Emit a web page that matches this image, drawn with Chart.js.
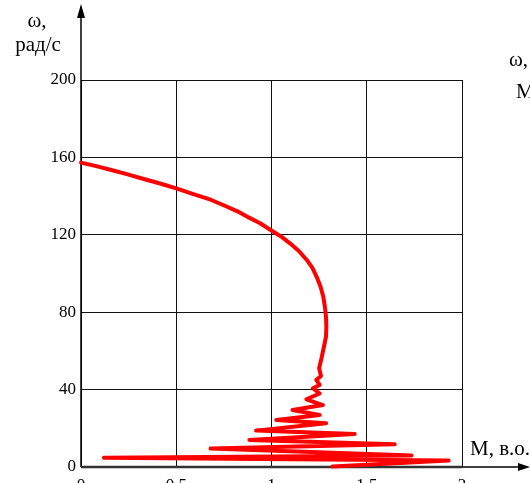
<!DOCTYPE html>
<html>
<head>
<meta charset="utf-8">
<script src="https://cdn.jsdelivr.net/npm/chart.js@4.4.1/dist/chart.umd.min.js"></script>
<style>
  html, body { margin: 0; padding: 0; background: #fff; overflow: hidden; }
  #wrap { width: 530px; height: 483px; }
</style>
</head>
<body>
<div id="wrap"><canvas id="chart" width="530" height="483"></canvas></div>
<script>
// tick labels
const xTicks = [0, 0.5, 1, 1.5, 2];
const yTicks = [0, 40, 80, 120, 160, 200];

// torque M (p.u.) against speed ω (rad/s), from start-up to idle
const torque = [
  1.32, 1.93, 0.12, 1.735, 0.68, 1.647, 0.884, 1.437, 0.919, 1.287,
  1.025, 1.253, 1.11, 1.27, 1.183, 1.253, 1.217, 1.253, 1.235, 1.26,
  1.25, 1.262, 1.275, 1.286, 1.288, 1.286, 1.28, 1.272, 1.258, 1.237,
  1.214, 1.185, 1.145, 1.097, 1.055, 1.01, 0.94, 0.88, 0.824, 0.755,
  0.684, 0.59, 0.5, 0.415, 0.334, 0.245, 0.159, 0.08, 0
];
const omega = [
  0.2, 3.3, 4.8, 5.9, 9.5, 11.7, 14, 17.1, 18.8, 22.6,
  24.3, 26.9, 29.5, 32, 35, 38, 40.7, 42.4, 45, 47,
  51, 56, 62, 67.3, 72.5, 77.7, 83, 88, 93, 98.3,
  103, 107, 111.5, 115.6, 118.8, 121.6, 126, 129, 132, 135,
  138, 141, 144, 146.5, 148.7, 151.2, 153.5, 155.5, 157.3
];

const serif = '"Liberation Serif", "Times New Roman", serif';

// arrows on the axes and the axis captions
const axisDecor = {
  id: "axisDecor",
  beforeDatasetsDraw(chart) {
    const { ctx, chartArea } = chart;
    const x0 = chartArea.left;
    const y0 = chartArea.bottom;
    ctx.save();
    ctx.strokeStyle = "#000";
    ctx.fillStyle = "#000";

    ctx.lineWidth = 1.5;
    ctx.beginPath();
    ctx.moveTo(x0, y0);
    ctx.lineTo(x0, 14);
    ctx.stroke();
    ctx.beginPath();
    ctx.moveTo(x0, 4);
    ctx.lineTo(x0 - 4, 18);
    ctx.lineTo(x0 + 4, 18);
    ctx.closePath();
    ctx.fill();

    ctx.lineWidth = 2.5;
    ctx.strokeStyle = "#333";
    ctx.beginPath();
    ctx.moveTo(x0, y0);
    ctx.lineTo(chartArea.right, y0);
    ctx.stroke();
    ctx.lineWidth = 1.5;
    ctx.strokeStyle = "#000";
    ctx.beginPath();
    ctx.moveTo(chartArea.right, y0);
    ctx.lineTo(520, y0);
    ctx.stroke();
    ctx.beginPath();
    ctx.moveTo(530, y0);
    ctx.lineTo(518, y0 - 4);
    ctx.lineTo(518, y0 + 4);
    ctx.closePath();
    ctx.fill();
    ctx.restore();
  },
  afterDraw(chart) {
    const ctx = chart.ctx;
    ctx.save();
    ctx.fillStyle = "#000";
    ctx.font = "21px " + serif;
    ctx.textBaseline = "alphabetic";
    ctx.textAlign = "center";
    ctx.fillText("ω,", 37, 27);
    ctx.fillText("рад/с", 38, 51);
    ctx.textAlign = "left";
    ctx.fillText("M, в.о.", 470, 455);
    ctx.fillText("ω,", 509, 66);
    ctx.fillText("M", 516, 98);
    ctx.restore();
  }
};

const tickFont = { family: serif, size: 17 };

new Chart(document.getElementById("chart"), {
  type: "scatter",
  data: {
    datasets: [
      {
        data: torque.map((m, i) => ({ x: m, y: omega[i] })),
        showLine: true,
        borderColor: "#ff0000",
        borderWidth: 4,
        borderCapStyle: "round",
        borderJoinStyle: "round",
        pointRadius: 0,
        tension: 0,
        clip: 4,
      },
    ],
  },
  plugins: [axisDecor],
  options: {
    responsive: false,
    animation: false,
    layout: { padding: { left: 0, top: 80, right: 68, bottom: 0 } },
    plugins: {
      legend: { display: false },
      tooltip: { enabled: false },
    },
    scales: {
      x: {
        type: "linear",
        min: 0,
        max: 2,
        afterBuildTicks: (s) => {
          s.ticks = xTicks.map((v) => ({ value: v }));
        },
        afterFit: (s) => {
          s.height = 16;
        },
        grid: { color: "#111", lineWidth: 1, drawTicks: false },
        border: { display: false },
        ticks: {
          padding: 8,
          color: "#000",
          font: tickFont,
          maxRotation: 0,
          autoSkip: false,
          callback: (v) => String(v),
        },
      },
      y: {
        type: "linear",
        min: 0,
        max: 200,
        afterBuildTicks: (s) => {
          s.ticks = yTicks.map((v) => ({ value: v }));
        },
        afterFit: (s) => {
          s.width = 81;
        },
        grid: { color: "#111", lineWidth: 1, drawTicks: false },
        border: { display: false },
        ticks: {
          padding: 5,
          color: "#000",
          font: tickFont,
          autoSkip: false,
          callback: (v) => String(v),
        },
      },
    },
  },
});
</script>
</body>
</html>
